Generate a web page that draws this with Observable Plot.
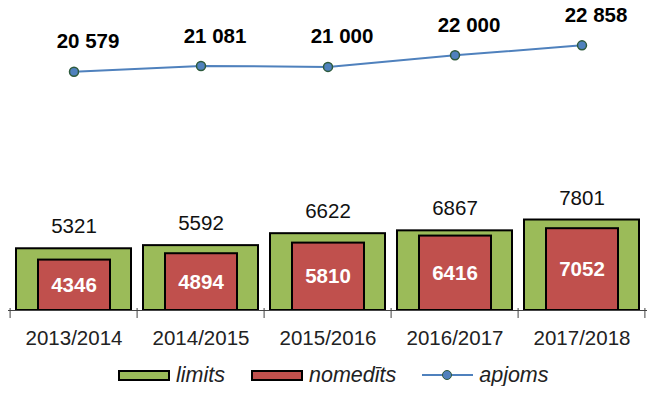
<!DOCTYPE html>
<html><head><meta charset="utf-8">
<script src="https://cdn.jsdelivr.net/npm/d3@7"></script>
<script src="https://cdn.jsdelivr.net/npm/@observablehq/plot@0.6"></script>
<style>
body{margin:0;background:#fff;font-family:"Liberation Sans",Arial,sans-serif;}
#legend{display:flex;align-items:center;margin-left:118px;margin-top:14px;height:22px;font-style:italic;font-size:21.5px;color:#222;}
.sw{display:inline-block;width:48px;height:7px;border:2px solid #000;margin-right:6px;}
.item{display:flex;align-items:center;margin-right:26px;}
.linesw{position:relative;width:51px;height:12px;margin-right:6px;}
.linesw .l{position:absolute;left:0;right:0;top:5px;height:2px;background:#4F81BD;}
.linesw .d{position:absolute;left:20px;top:1px;width:8px;height:8px;border-radius:50%;background:#4F81BD;border:1.5px solid #2d5a3c;}
</style></head><body>
<div id="chart"></div>
<div id="legend"></div>
<script>
const seasons = ["2013/2014", "2014/2015", "2015/2016", "2016/2017", "2017/2018"];
const limits = [5321, 5592, 6622, 6867, 7801];
const hunted = [4346, 4894, 5810, 6416, 7052];
const volume = [20579, 21081, 21000, 22000, 22858];
const seriesNames = ["limits", "nomedīts", "apjoms"];
const colors = ["#9BBB59", "#C0504D", "#4F81BD"];

const rows = seasons.map((s, i) => ({season: s, limit: limits[i], hunted: hunted[i], volume: volume[i]}));
const fmtSpace = d => d3.format(",")(d).replace(/,/g, " ");
const W = 648, ML = 8, MR = 1;
const step = (W - ML - MR) / seasons.length;
const FS = 20.5;

const chart = Plot.plot({
  width: W, height: 350, marginTop: 20, marginBottom: 40, marginLeft: ML, marginRight: MR,
  style: {fontFamily: "'Liberation Sans', Arial, sans-serif", fontSize: FS + "px", background: "#fff"},
  x: {domain: seasons, padding: 0},
  y: {domain: [0, 25000], axis: null},
  marks: [
    Plot.barY(rows, {x: "season", y: "limit", fill: colors[0], stroke: "#000", strokeWidth: 2, insetLeft: 6, insetRight: 6}),
    Plot.barY(rows, {x: "season", y: "hunted", fill: colors[1], stroke: "#000", strokeWidth: 2, insetLeft: 28, insetRight: 27}),
    Plot.text(rows, {x: "season", y: "limit", text: d => String(d.limit), dy: -22, fontSize: FS, fill: "#111"}),
    Plot.text(rows, {x: "season", y: d => d.hunted / 2, text: d => String(d.hunted), fill: "#fff", fontWeight: "bold", fontSize: FS}),
    Plot.ruleY([0], {stroke: "#444", strokeWidth: 1}),
    Plot.ruleX(seasons, {x: d => d, y1: 0, y2: 0, insetTop: -2, insetBottom: -8, dx: -step / 2, stroke: "#444"}),
    Plot.ruleX([seasons[seasons.length - 1]], {x: d => d, y1: 0, y2: 0, insetTop: -2, insetBottom: -8, dx: step / 2 - 1, stroke: "#444"}),
    Plot.axisX({tickSize: 0, tickPadding: 20, fontSize: FS, color: "#222", label: null}),
    Plot.line(rows, {x: "season", y: "volume", stroke: colors[2], strokeWidth: 2}),
    Plot.dot(rows, {x: "season", y: "volume", r: 4.5, fill: colors[2], stroke: "#2d5a3c", strokeWidth: 1.5}),
    Plot.text(rows, {x: "season", y: "volume", text: d => fmtSpace(d.volume), dy: -30, dx: 14, fontWeight: "bold", fontSize: FS, fill: "#000"})
  ]
});
document.getElementById("chart").append(chart);

const lg = document.getElementById("legend");
seriesNames.forEach((name, i) => {
  const item = document.createElement("div");
  item.className = "item";
  const sw = document.createElement("span");
  if (i < 2) {
    sw.className = "sw";
    sw.style.background = colors[i];
  } else {
    sw.className = "linesw";
    sw.innerHTML = '<span class="l"></span><span class="d"></span>';
  }
  item.append(sw);
  const t = document.createElement("span");
  t.textContent = name;
  item.append(t);
  lg.append(item);
});
</script>
</body></html>
